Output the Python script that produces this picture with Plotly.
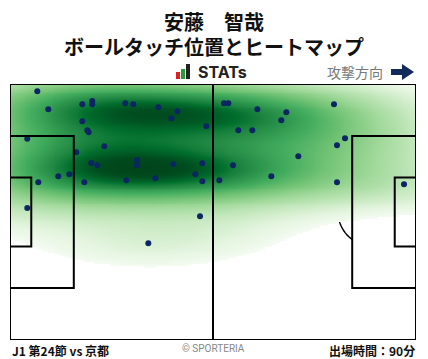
import numpy as np
import plotly.graph_objects as go

# ---- data (pitch metres, x: 0-105 attack to right, y: 0-68 from top touchline) ----
touch_x = [7.06, 9.91, 18.70, 21.28, 21.28, 29.82, 31.89, 38.35, 43.27, 41.72,
           50.77, 18.70, 19.99, 20.35, 4.47, 24.39, 17.15, 21.03, 22.58, 32.84,
           32.84, 42.23, 49.73, 47.92, 49.73, 37.58, 30.08, 19.22, 15.34, 12.49,
           7.32, 4.47, 55.34, 56.46, 63.96, 71.46, 70.16, 83.79, 59.04, 62.66,
           86.64, 84.57, 74.56, 57.67, 54.13, 67.58, 84.57, 101.90, 49.14, 35.77]
touch_y = [1.94, 6.72, 5.39, 4.52, 5.39, 5.13, 5.39, 6.19, 7.25, 9.11,
           11.24, 9.91, 12.30, 12.83, 14.53, 16.55, 18.14, 20.98, 21.60, 20.19,
           21.60, 21.33, 21.06, 23.99, 25.85, 25.05, 25.58, 26.11, 23.99, 24.52,
           26.11, 32.94, 5.13, 5.13, 6.72, 7.52, 9.64, 5.39, 12.30, 12.30,
           14.42, 16.28, 19.20, 21.60, 25.58, 24.52, 26.11, 26.64, 35.14, 42.31]

player_name = "安藤　智哉"
chart_title = "ボールタッチ位置とヒートマップ"
match_label = "J1 第24節 vs 京都"
minutes_label = "出場時間：90分"
direction_label = "攻撃方向"
credit_label = "© SPORTERIA"

PITCH_L, PITCH_W = 105.0, 68.0
BW_X, BW_Y = 1.55, 1.0
THRESH = 0.017
GAMMA = 0.6

# ---- KDE (gaussian, Scott bandwidth) ----
pts = np.vstack([touch_x, touch_y])
n = pts.shape[1]
factor = n ** (-1.0 / 6.0)
D = np.diag([BW_X, BW_Y])
kcov = D @ np.cov(pts) @ D * factor ** 2
inv = np.linalg.inv(kcov)
gx = np.linspace(-30, PITCH_L + 30, 331)
gy = np.linspace(-25, PITCH_W + 25, 237)
GX, GY = np.meshgrid(gx, gy)
Z = np.zeros_like(GX)
for px, py in zip(touch_x, touch_y):
    dx = GX - px
    dy = GY - py
    Z += np.exp(-0.5 * (inv[0, 0] * dx * dx + 2 * inv[0, 1] * dx * dy + inv[1, 1] * dy * dy))
# iso-proportion mapping: value = share of mass lying in cells of lower density
flat = Z.ravel()
order = np.argsort(flat)
cum = np.cumsum(flat[order])
cum /= cum[-1]
prop = np.empty_like(flat)
prop[order] = cum
P = prop.reshape(Z.shape)

mask_x = (gx >= 0) & (gx <= PITCH_L)
mask_y = (gy >= 0) & (gy <= PITCH_W)
Pp = P[np.ix_(mask_y, mask_x)].copy()
Cp = np.clip((Pp - THRESH) / (1 - THRESH), 0, 1) ** GAMMA
Cp[Pp < THRESH] = np.nan

W, H = 428, 359
L, R, T, B = 10, 416, 84, 340

greens = [[0.0, "#f7fcf5"], [0.125, "#e5f5e0"], [0.25, "#c7e9c0"], [0.375, "#a1d99b"],
          [0.5, "#74c476"], [0.625, "#41ab5d"], [0.75, "#238b45"], [0.875, "#006d2c"],
          [1.0, "#00441b"]]

fig = go.Figure()
fig.add_trace(go.Heatmap(x=gx[mask_x], y=gy[mask_y], z=Cp, colorscale=greens,
                         zmin=0, zmax=1.0, zsmooth="best",
                         showscale=False, hoverinfo="skip"))
fig.add_trace(go.Scatter(x=touch_x, y=touch_y, mode="markers",
                         marker=dict(color="#0b2663", size=6), hoverinfo="skip"))

shapes = []
line = dict(color="black", width=2)
def rect(x0, y0, x1, y1, layer="above"):
    shapes.append(dict(type="rect", xref="x", yref="y", x0=x0, y0=y0, x1=x1, y1=y1,
                       line=line, layer=layer))
def seg(x0, y0, x1, y1, layer="above"):
    shapes.append(dict(type="line", xref="x", yref="y", x0=x0, y0=y0, x1=x1, y1=y1,
                       line=line, layer=layer))

def arc_path(cx, cy, r, a0, a1, npts=40):
    a = np.linspace(a0, a1, npts)
    xs = cx + r * np.cos(a)
    ys = cy + r * np.sin(a)
    return "M " + " L ".join(f"{x:.3f},{y:.3f}" for x, y in zip(xs, ys))
half = np.arccos(5.5 / 9.15)
shapes.append(dict(type="path", xref="x", yref="y", path=arc_path(11, 34, 9.15, -half, half),
                   line=dict(color="black", width=1.5), layer="below"))
shapes.append(dict(type="path", xref="x", yref="y",
                   path=arc_path(94, 34, 9.15, np.pi - half, np.pi + half),
                   line=dict(color="black", width=1.5), layer="below"))
shapes.append(dict(type="circle", xref="x", yref="y", x0=52.5 - 9.15, x1=52.5 + 9.15,
                   y0=34 - 9.15, y1=34 + 9.15, line=dict(color="black", width=1.5), layer="below"))

rect(0, 0, PITCH_L, PITCH_W)
seg(52.5, 0, 52.5, PITCH_W)
rect(0, 34 - 20.16, 16.5, 34 + 20.16)
rect(PITCH_L - 16.5, 34 - 20.16, PITCH_L, 34 + 20.16)
rect(0, 34 - 9.16, 5.5, 34 + 9.16)
rect(PITCH_L - 5.5, 34 - 9.16, PITCH_L, 34 + 9.16)

def px2paper(x, y):
    return x / W, 1 - y / H

# STATs logo bars
for (x0, x1, y0, color) in [(176, 180, 72, "#e02020"), (181, 185, 69, "#2a9a3a"), (186, 190, 64, "#222222")]:
    a0, b0 = px2paper(x0, 79)
    a1, b1 = px2paper(x1, y0)
    shapes.append(dict(type="rect", xref="paper", yref="paper", x0=a0, y0=b0, x1=a1, y1=b1,
                       fillcolor=color, line=dict(width=0)))
# direction arrow
arrow_pts = [(391, 69), (402, 69), (402, 64), (414, 72), (402, 80), (402, 75), (391, 75)]
path = "M " + " L ".join("{:.4f},{:.4f}".format(*px2paper(x, y)) for x, y in arrow_pts) + " Z"
shapes.append(dict(type="path", xref="paper", yref="paper", path=path,
                   fillcolor="#102a5c", line=dict(width=0)))

font_jp = "Noto Sans CJK JP"
ann = []
def text(s, x, y, size, color="#111111", anchor="center", bold=True, family=font_jp):
    px, py = px2paper(x, y)
    ann.append(dict(text=f"<b>{s}</b>" if bold else s, x=px, y=py, xref="paper", yref="paper",
                    xanchor=anchor, yanchor="middle", showarrow=False,
                    font=dict(size=size, color=color, family=family)))

text(player_name, 214, 21, 20)
text(chart_title, 214, 46, 20)
text("STATs", 222, 72, 16, color="#222222", family="Inter")
text(direction_label, 355, 72, 14, color="#777777", bold=False)
text(match_label, 10, 350, 12, anchor="left")
text(credit_label, 213, 348, 10, color="#888888", bold=False, family="Roboto")
text(minutes_label, 417, 350, 12, anchor="right")

fig.update_layout(
    width=W, height=H, margin=dict(l=0, r=0, t=0, b=0),
    paper_bgcolor="white", plot_bgcolor="white", showlegend=False,
    shapes=shapes, annotations=ann,
    xaxis=dict(range=[0, PITCH_L], domain=[L / W, R / W], visible=False, fixedrange=True),
    yaxis=dict(range=[PITCH_W, 0], domain=[1 - B / H, 1 - T / H], visible=False, fixedrange=True),
)
fig.write_html("out.html", config={"displayModeBar": False},
               post_script="document.body.style.margin='0';document.body.style.padding='0';")
